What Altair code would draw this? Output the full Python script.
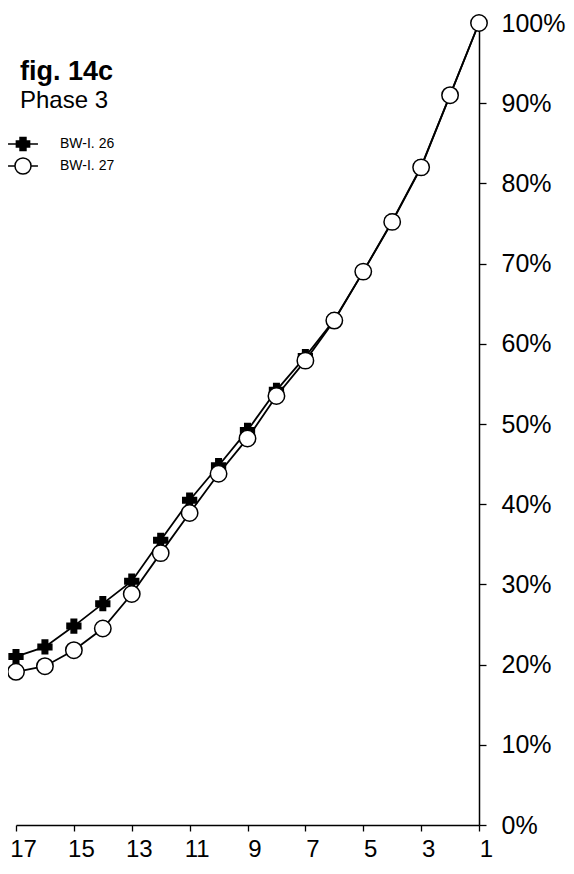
import altair as alt
import pandas as pd

# --- data ---
x_vals = [17, 16, 15, 14, 13, 12, 11, 10, 9, 8, 7, 6, 5, 4, 3, 2, 1]
bw26 = [0.210, 0.222, 0.248, 0.276, 0.304, 0.355, 0.405, 0.448, 0.492, 0.542, 0.584, 0.630, 0.690, 0.753, 0.821, 0.910, 1.000]
bw27 = [0.191, 0.198, 0.218, 0.245, 0.288, 0.339, 0.389, 0.438, 0.482, 0.535, 0.579, 0.629, 0.690, 0.752, 0.820, 0.910, 1.000]
series_names = ["BW-I. 26", "BW-I. 27"]
y_ticks = [0, 0.1, 0.2, 0.3, 0.4, 0.5, 0.6, 0.7, 0.8, 0.9, 1.0]
x_ticks = list(range(1, 18))
title_lines = ["fig. 14c", "Phase 3"]

rows = []
for name, vals in zip(series_names, [bw26, bw27]):
    for xv, yv in zip(x_vals, vals):
        rows.append({"x": xv, "y": yv, "series": name})
df = pd.DataFrame(rows)

FONT = "Liberation Sans"

xenc = alt.X(
    "x:Q",
    scale=alt.Scale(domain=[1, 17], reverse=True, nice=False, zero=False),
    axis=alt.Axis(
        values=x_ticks,
        labelExpr="datum.value % 2 == 1 ? datum.label : ''",
        title=None, grid=False, tickSize=6, tickColor="black", tickWidth=1.3,
        domainColor="black", domainWidth=1.5,
        labelFont=FONT, labelFontSize=24, labelColor="black", labelPadding=6,
        labelOffset=7, labelFlush=False, labelOverlap=False,
    ),
)
yenc = alt.Y(
    "y:Q",
    scale=alt.Scale(domain=[0, 1], nice=False),
    axis=alt.Axis(
        orient="right", values=y_ticks, format=".0%",
        title=None, grid=False, tickSize=7, tickColor="black", tickWidth=1.3,
        domainColor="black", domainWidth=1.5,
        labelFont=FONT, labelFontSize=25, labelColor="black", labelPadding=15,
        labelFlush=False, labelOverlap=False,
    ),
)

lines = alt.Chart(df).mark_line(color="black", strokeWidth=1.8).encode(
    x=xenc, y=yenc, detail="series:N"
)

points = alt.Chart(df).mark_point(filled=True, stroke="black", strokeWidth=1.5, opacity=1).encode(
    x="x:Q", y="y:Q",
    shape=alt.Shape("series:N", scale=alt.Scale(domain=series_names, range=["cross", "circle"]), legend=None),
    fill=alt.Fill("series:N", scale=alt.Scale(domain=series_names, range=["black", "white"]), legend=None),
    size=alt.Size("series:N", scale=alt.Scale(domain=series_names, range=[190, 270]), legend=None),
)

path26 = ("M-1.36,0L1.36,0"
          "M-0.6,-0.27L-0.27,-0.27L-0.27,-0.6L0.27,-0.6L0.27,-0.27L0.6,-0.27"
          "L0.6,0.27L0.27,0.27L0.27,0.6L-0.27,0.6L-0.27,0.27L-0.6,0.27Z")
path27 = ("M-1.36,0L-0.73,0M0.73,0L1.36,0"
          "M-0.73,0A0.73,0.73,0,1,0,0.73,0A0.73,0.73,0,1,0,-0.73,0Z")

leg = dict(
    title=None, orient="none", legendX=-5, legendY=109,
    symbolSize=484, symbolOpacity=1, symbolStrokeWidth=1.5,
    labelFont=FONT, labelFontSize=14, labelColor="black",
    labelOffset=25, rowPadding=0, padding=0,
)

legend_layer = alt.Chart(df).mark_point(filled=True, strokeWidth=1.5, opacity=0).encode(
    x="x:Q", y="y:Q",
    shape=alt.Shape("series:N", scale=alt.Scale(domain=series_names, range=[path26, path27]),
                    legend=alt.Legend(**leg)),
    fill=alt.Fill("series:N", scale=alt.Scale(domain=series_names, range=["black", "white"]),
                  legend=alt.Legend(**leg)),
    stroke=alt.Stroke("series:N", scale=alt.Scale(domain=series_names, range=["black", "black"]),
                      legend=alt.Legend(**leg)),
)

tdf1 = pd.DataFrame({"t": [title_lines[0]]})
tdf2 = pd.DataFrame({"t": [title_lines[1]]})
t1 = alt.Chart(tdf1).mark_text(align="left", baseline="alphabetic", font=FONT, fontSize=27,
                                fontWeight="bold", color="black").encode(
    x=alt.value(4), y=alt.value(57), text="t:N")
t2 = alt.Chart(tdf2).mark_text(align="left", baseline="alphabetic", font=FONT, fontSize=24,
                                color="black").encode(
    x=alt.value(4), y=alt.value(85), text="t:N")

chart = alt.layer(lines, points, legend_layer, t1, t2).resolve_scale(
    shape="independent", fill="independent", size="independent", stroke="independent"
).resolve_legend(shape="independent", fill="independent", stroke="independent").properties(
    width=463, height=802,
    background="white",
    autosize=alt.AutoSizeParams(type="none"),
    padding={"left": 8, "top": 15, "right": 87, "bottom": 40},
).configure_view(stroke=None, strokeWidth=0)

chart.save("out.html", embed_options={"renderer": "svg", "actions": False})
